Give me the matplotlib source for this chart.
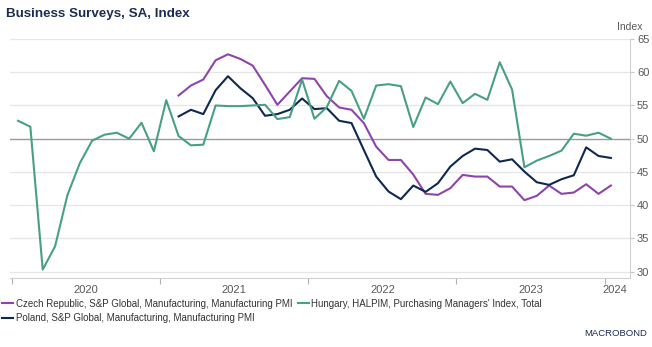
import numpy as np
import matplotlib.pyplot as plt

# monthly PMI readings, Jan 2020 .. Jan 2024 (index 0 = Jan 2020)
hungary = [52.7, 51.8, 30.3, 33.8, 41.5, 46.3, 49.7, 50.6, 50.9, 50.0,
           52.4, 48.1, 55.8, 50.4, 49.0, 49.1, 55.0, 54.9, 54.9, 55.0,
           55.1, 52.95, 53.25, 58.9, 53.0, 54.75, 58.7, 57.2, 53.0, 58.0,
           58.2, 57.9, 51.75, 56.2, 55.2, 58.6, 55.35, 56.75, 55.85, 61.5,
           57.4, 45.7, 46.7, 47.4, 48.2, 50.75, 50.45, 50.9, 50.0]

# Czech and Poland start in Feb 2021 (index 13)
czech = [56.5, 58.0, 58.9, 61.8, 62.7, 62.0, 61.0, 58.1, 55.1, 57.1,
         59.1, 59.0, 56.4, 54.7, 54.35, 52.35, 48.8, 46.8, 46.8, 44.6,
         41.7, 41.55, 42.55, 44.55, 44.3, 44.3, 42.8, 42.8, 40.75, 41.4,
         42.95, 41.7, 41.9, 43.15, 41.7, 42.95]
poland = [53.35, 54.35, 53.7, 57.3, 59.4, 57.6, 56.1, 53.45, 53.7, 54.35,
          56.05, 54.45, 54.6, 52.7, 52.35, 48.3, 44.3, 42.05, 40.9, 42.95,
          42.0, 43.3, 45.8, 47.4, 48.5, 48.3, 46.55, 46.9, 45.05, 43.45,
          43.05, 43.9, 44.5, 48.7, 47.4, 47.1]

years = ['2020', '2021', '2022', '2023', '2024']

x_hu = np.arange(len(hungary))
x_cz = np.arange(13, 13 + len(czech))
x_pl = np.arange(13, 13 + len(poland))

purple = '#8e44ad'
green = '#48a084'
navy = '#0f2850'
grey_txt = '#595959'

plt.rcParams['font.family'] = ['Liberation Sans', 'DejaVu Sans']

fig = plt.figure(figsize=(6.52, 3.47), dpi=100)
ax = fig.add_axes([0.0153, 0.2, 0.951, 0.6876])

ax.plot(x_cz, czech, color=purple, lw=1.5, label='Czech Republic, S&P Global, Manufacturing, Manufacturing PMI')
ax.plot(x_pl, poland, color=navy, lw=1.5, label='Poland, S&P Global, Manufacturing, Manufacturing PMI')
ax.plot(x_hu, hungary, color=green, lw=1.5, label="Hungary, HALPIM, Purchasing Managers' Index, Total")

ax.set_xlim(-0.65, 49.55)
ax.set_ylim(29.1, 65)

# gridlines + 50 line
for v in range(30, 66, 5):
    if v == 50:
        ax.axhline(v, color='#9a9a9a', lw=1.0, zorder=0.5)
    else:
        ax.axhline(v, color='#e6e6e6', lw=0.9, zorder=0)

ax.yaxis.tick_right()
ax.set_yticks(range(30, 66, 5))
ax.tick_params(axis='y', length=3, color='#c8c8c8', labelsize=8, labelcolor=grey_txt, pad=2)

# year boundaries as ticks, labels centered in the year
ax.set_xticks([-0.5, 11.5, 23.5, 35.5, 47.5])
ax.set_xticklabels([])
ax.set_xticks([5.5, 17.5, 29.5, 41.5, 48.3], minor=True)
ax.set_xticklabels(years, minor=True)
ax.tick_params(axis='x', which='major', length=4, color='#b0b0b0')
ax.tick_params(axis='x', which='minor', length=0, labelsize=8, labelcolor=grey_txt, pad=5)

for s in ['top', 'left']:
    ax.spines[s].set_visible(False)
ax.spines['bottom'].set_color('#d0d0d0')
ax.spines['right'].set_color('#d0d0d0')

fig.text(0.009, 0.96, 'Business Surveys, SA, Index', fontsize=9.6, fontweight='bold',
         color='#1b2d52', va='center', ha='left')
fig.text(0.985, 0.922, 'Index', fontsize=7.5, color=grey_txt, ha='right', va='center')

h, l = ax.get_legend_handles_labels()
fig.legend(h, l, loc='upper left', bbox_to_anchor=(0.0, 0.145), ncol=2, frameon=False,
           fontsize=7.0, handlelength=1.1, handletextpad=0.3, columnspacing=0.6,
           labelspacing=0.5, borderaxespad=0, borderpad=0.2, labelcolor='#333333')

fig.text(0.993, 0.04, 'MACROBOND', fontsize=6.8, color='#1b2d52', ha='right', va='center')

fig.savefig('out.png', dpi=100)
